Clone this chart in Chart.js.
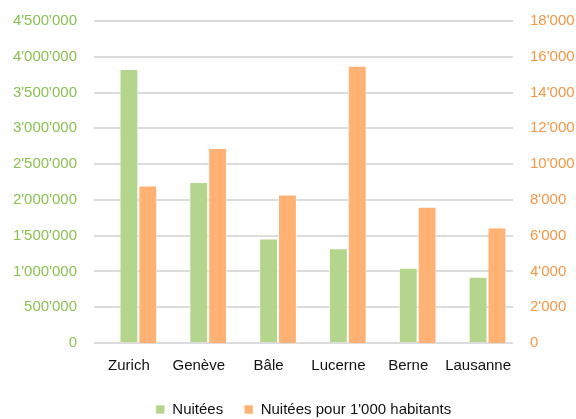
<!DOCTYPE html>
<html>
<head>
<meta charset="utf-8">
<script src="https://cdn.jsdelivr.net/npm/chart.js@4"></script>
<style>
  html, body { margin: 0; padding: 0; background: #fff; }
  #wrap { width: 576px; height: 419px; position: relative; }
</style>
</head>
<body>
<div id="wrap"><canvas id="nuitees-chart"></canvas></div>
<script>
// Chart values
const cities = ['Zurich', 'Genève', 'Bâle', 'Lucerne', 'Berne', 'Lausanne'];
const nuitees = [3830000, 2250000, 1460000, 1325000, 1050000, 925000];
const nuitees_per_1000 = [8800, 10900, 8300, 15500, 7620, 6450];
const spacer = [null, null, null, null, null, null];

const font_family = "'Liberation Sans', Arial, sans-serif";

// 4'500'000 style numbers
function swiss_format(value) {
    return String(value).replace(/\B(?=(\d{3})+(?!\d))/g, "'");
}

// fixed axis widths, no extra padding from the tick labels
function fit_y(width) {
    return function(scale) {
        scale.width = width;
        scale.paddingTop = 0;
        scale.paddingBottom = 0;
    };
}

const ctx = document.getElementById('nuitees-chart').getContext('2d');

const data = {
    labels: cities,
    datasets: [{
        label: '',
        data: spacer,
        yAxisID: 'y'
    }, {
        label: 'Nuitées',
        data: nuitees,
        backgroundColor: '#b3d68c',
        borderColor: 'rgba(255,255,255,0.6)',
        borderWidth: 1,
        yAxisID: 'y'
    }, {
        label: "Nuitées pour 1'000 habitants",
        data: nuitees_per_1000,
        backgroundColor: '#ffb273',
        borderColor: 'rgba(255,255,255,0.6)',
        borderWidth: 1,
        yAxisID: 'y1'
    }]
};

const options = {
    responsive: true,
    maintainAspectRatio: false,
    animation: false,
    layout: { padding: { top: 21, left: 0, right: 0, bottom: -8 } },
    datasets: {
        bar: { categoryPercentage: 0.81, barPercentage: 1 }
    },
    plugins: {
        tooltip: { enabled: false },
        legend: {
            position: 'bottom',
            fullSize: false,
            labels: {
                font: { family: font_family, size: 15 },
                color: '#111',
                boxWidth: 9,
                boxHeight: 9,
                padding: 21,
                filter: function(item) { return item.text !== ''; }
            }
        }
    },
    scales: {
        x: {
            grid: { display: false, drawTicks: false },
            border: { display: false },
            ticks: {
                font: { family: font_family, size: 15 },
                color: '#111',
                padding: 14,
                maxRotation: 0,
                autoSkip: false
            },
            afterFit: function(scale) { scale.height = 38; }
        },
        y: {
            position: 'left',
            min: 0,
            max: 4500000,
            grid: { color: '#dcdcdc', lineWidth: 2, drawTicks: false },
            border: { display: false },
            ticks: {
                stepSize: 500000,
                font: { family: font_family, size: 15 },
                color: '#8cc152',
                padding: 17,
                callback: swiss_format
            },
            afterFit: fit_y(94)
        },
        y1: {
            position: 'right',
            min: 0,
            max: 18000,
            grid: { display: false, drawTicks: false },
            border: { display: false },
            ticks: {
                stepSize: 2000,
                font: { family: font_family, size: 15 },
                color: '#f79646',
                padding: 17,
                callback: swiss_format
            },
            afterFit: fit_y(63)
        }
    }
};

const nuitees_chart = new Chart(ctx, {
    type: 'bar',
    data: data,
    options: options
});
</script>
</body>
</html>
